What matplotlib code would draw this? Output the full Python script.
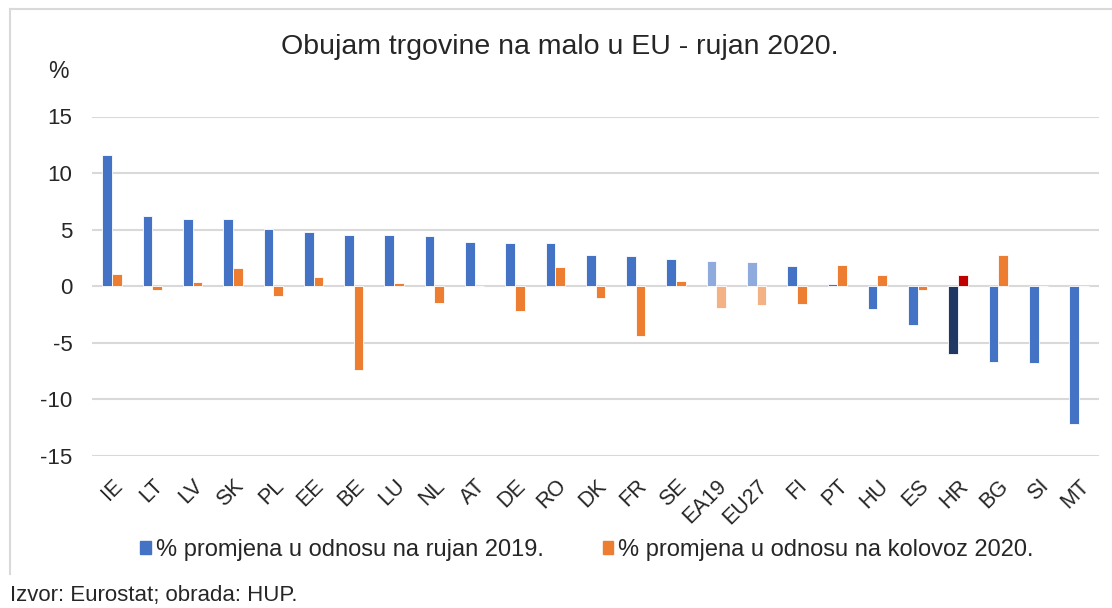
import numpy as np
import matplotlib.pyplot as plt
from matplotlib.lines import Line2D
from matplotlib.patches import Patch

plt.rcParams['font.family'] = ['Liberation Sans', 'DejaVu Sans']
plt.rcParams['axes.unicode_minus'] = False

countries = ['IE', 'LT', 'LV', 'SK', 'PL', 'EE', 'BE', 'LU', 'NL', 'AT', 'DE', 'RO', 'DK', 'FR',
             'SE', 'EA19', 'EU27', 'FI', 'PT', 'HU', 'ES', 'HR', 'BG', 'SI', 'MT']
yoy = [11.6, 6.2, 5.9, 5.9, 5.1, 4.8, 4.5, 4.5, 4.4, 3.9, 3.8, 3.8, 2.8, 2.7,
       2.4, 2.2, 2.1, 1.8, 0.2, -2.0, -3.4, -6.0, -6.7, -6.8, -12.2]
mom = [1.1, -0.3, 0.4, 1.6, -0.9, 0.8, -7.4, 0.3, -1.5, 0.0, -2.2, 1.7, -1.0, -4.4,
       0.5, -1.9, -1.7, -1.6, 1.9, 1.0, -0.3, 1.0, 2.8, 0.0, 0.0]

blue = '#4472C4'
orange = '#ED7D31'
blue_c = [blue] * len(countries)
orange_c = [orange] * len(countries)
for k in ['EA19', 'EU27']:
    blue_c[countries.index(k)] = '#8FAADC'
    orange_c[countries.index(k)] = '#F4B183'
blue_c[countries.index('HR')] = '#1F3864'
orange_c[countries.index('HR')] = '#C00000'

fig = plt.figure(figsize=(11.12, 6.08), dpi=100)
ax = fig.add_axes([92 / 1112, 1 - 456 / 608, 1007 / 1112, 339.5 / 608])

x = np.arange(len(countries))
w = 0.24
ax.bar(x - w / 2, yoy, w, color=blue_c, edgecolor='white', linewidth=0.6, zorder=3)
ax.bar(x + w / 2, mom, w, color=orange_c, edgecolor='white', linewidth=0.6, zorder=3)

ax.set_xlim(-0.5, len(countries) - 0.5)
ax.set_ylim(-15, 15)
ax.set_yticks([-15, -10, -5, 0, 5, 10, 15])
ax.yaxis.grid(True, color='#D9D9D9', linewidth=1.5, zorder=0)
ax.set_axisbelow(True)
for s in ax.spines.values():
    s.set_visible(False)
ax.tick_params(axis='both', length=0, colors='#262626')
ax.tick_params(axis='y', pad=14, labelsize=16)
ax.set_xticks(x)
ax.set_xticklabels(countries, rotation=45, ha='right', rotation_mode='anchor')
ax.tick_params(axis='x', pad=14, labelsize=15.5)

fig.text(560 / 1112, 1 - 47 / 608, 'Obujam trgovine na malo u EU - rujan 2020.', ha='center', va='center',
         fontsize=20.5, color='#262626')
fig.text(58 / 1112, 1 - 71 / 608, '%', ha='center', va='center', fontsize=16.5, color='#262626')
fig.text(10 / 1112, 1 - 595 / 608, 'Izvor: Eurostat; obrada: HUP.', ha='left', va='center', fontsize=16,
         color='#262626')

handles = [Patch(color=blue), Patch(color=orange)]
labels = ['% promjena u odnosu na rujan 2019.', '% promjena u odnosu na kolovoz 2020.']
fig.legend(handles, labels, loc='center', bbox_to_anchor=(587 / 1112, 1 - 550 / 608), ncol=2, frameon=False,
           fontsize=17, handlelength=0.45, handleheight=0.45, handletextpad=0.2, columnspacing=2.5,
           labelcolor='#262626')

fig.add_artist(Line2D([10 / 1112, 1], [1 - 9 / 608, 1 - 9 / 608], color='#D9D9D9', linewidth=1.5))
fig.add_artist(Line2D([10 / 1112, 10 / 1112], [1 - 9 / 608, 1 - 574 / 608], color='#D9D9D9', linewidth=1.5))

fig.savefig('out.png', dpi=100)
